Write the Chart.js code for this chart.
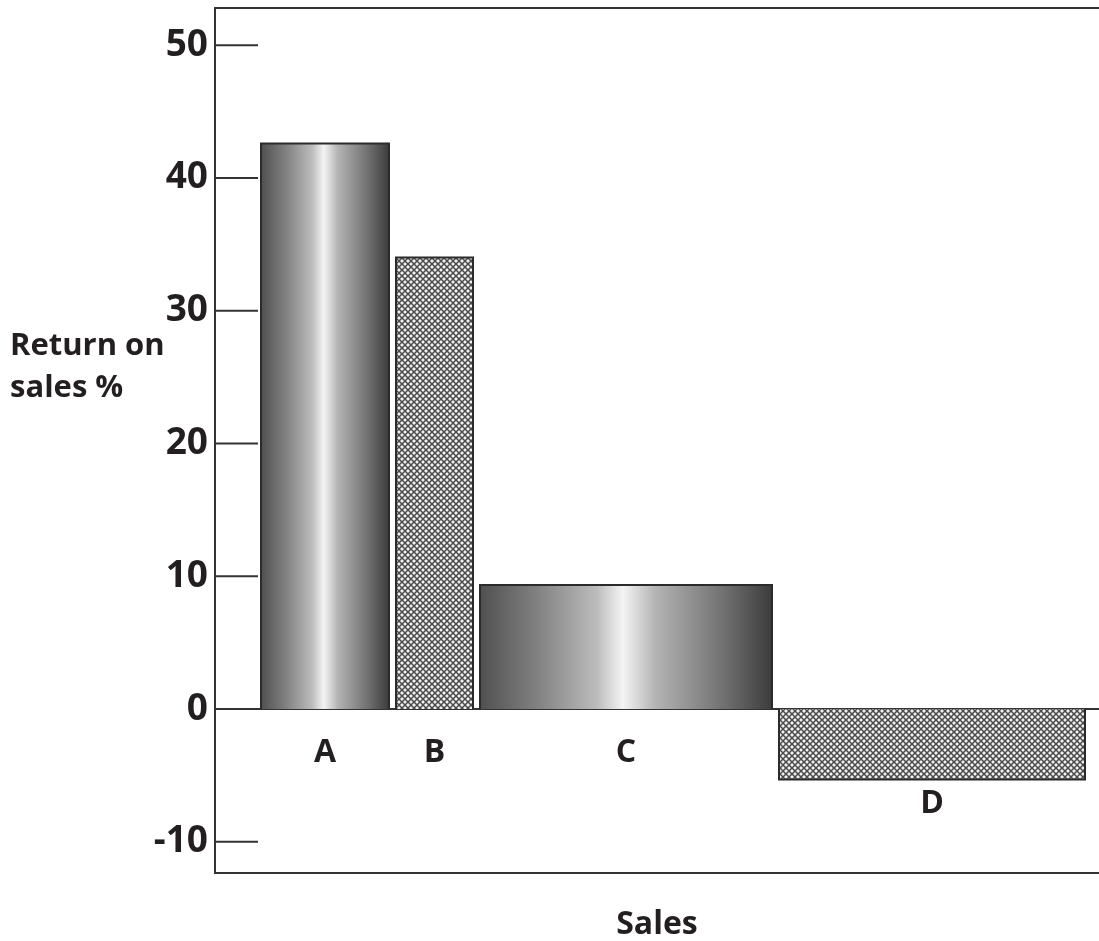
<!DOCTYPE html>
<html>
<head>
<meta charset="utf-8">
<script src="https://cdn.jsdelivr.net/npm/chart.js@4/dist/chart.umd.min.js"></script>
<style>
  html, body { margin: 0; padding: 0; background: #fff; }
  #wrap { width: 1099px; height: 941px; }
</style>
</head>
<body>
<div id="wrap"><canvas id="chart" width="1099" height="941"></canvas></div>
<script>
// data
const categories    = ['A', 'B', 'C', 'D'];
const sales         = [128, 77, 292, 306];
const returnOnSales = [42.6, 34.0, 9.35, -5.3];
const fillKinds     = ['metal', 'hatch', 'metal', 'hatch'];
const yTicks        = [-10, 0, 10, 20, 30, 40, 50];

const BAR_GAP = 7;
const INK = '#231f20';
const FONT = '"Open Sans", "DejaVu Sans", sans-serif';

// cumulative sales give each bar its left / right edge on the x scale
const starts = [];
const ends = [];
sales.reduce((acc, s) => {
  starts.push(acc);
  ends.push(acc + s);
  return acc + s + BAR_GAP;
}, 0);

/* ── fills ── */
function hatchPattern(ctx) {
  const tile = document.createElement('canvas');
  tile.width = tile.height = 6;
  const t = tile.getContext('2d');
  t.fillStyle = '#f0f0f0';
  t.fillRect(0, 0, 6, 6);
  t.strokeStyle = '#4a4a4a';
  t.lineWidth = 1.5;
  t.beginPath();
  t.moveTo(-1, -1); t.lineTo(7, 7);
  t.moveTo(7, -1);  t.lineTo(-1, 7);
  t.stroke();
  return ctx.createPattern(tile, 'repeat');
}

function metalGradient(ctx, x0, x1) {
  const g = ctx.createLinearGradient(x0, 0, x1, 0);
  g.addColorStop(0,    '#505050');
  g.addColorStop(0.2,  '#828282');
  g.addColorStop(0.4,  '#bcbcbc');
  g.addColorStop(0.49, '#f4f4f4');
  g.addColorStop(0.6,  '#b4b4b4');
  g.addColorStop(0.85, '#6c6c6c');
  g.addColorStop(1,    '#3c3c3c');
  return g;
}

let hatch = null;

const datasets = categories.map((cat, i) => ({
  label: cat,
  data: [
    { x: starts[i], y: 0 },
    { x: starts[i], y: returnOnSales[i] },
    { x: ends[i],   y: returnOnSales[i] },
    { x: ends[i],   y: 0 },
  ],
  fill: 'origin',
  borderColor: '#2b2b2b',
  borderWidth: 2,
  pointRadius: 0,
  tension: 0,
  backgroundColor: c => {
    const { ctx, scales, chartArea } = c.chart;
    if (fillKinds[i] === 'hatch') {
      if (!hatch) hatch = hatchPattern(ctx);
      return hatch;
    }
    if (!chartArea || !scales.x) return '#999';
    const x0 = scales.x.getPixelForValue(starts[i]);
    const x1 = scales.x.getPixelForValue(ends[i]);
    if (!Number.isFinite(x0) || !Number.isFinite(x1)) return '#999';
    return metalGradient(ctx, x0, x1);
  },
}));

/* ── frame, short ticks, labels ── */
const decorations = {
  id: 'decorations',
  beforeDatasetsDraw(chart) {
    const { ctx, chartArea: a, scales: { y } } = chart;
    ctx.save();
    ctx.strokeStyle = '#333';
    ctx.lineWidth = 2;
    ctx.beginPath();
    ctx.moveTo(a.left, a.top);
    ctx.lineTo(a.right, a.top);
    yTicks.filter(v => v !== 0).forEach(v => {
      const py = y.getPixelForValue(v);
      ctx.moveTo(a.left, py);
      ctx.lineTo(a.left + 43, py);
    });
    ctx.stroke();
    ctx.restore();
  },
  afterDatasetsDraw(chart) {
    const { ctx, scales: { x, y } } = chart;
    ctx.save();
    ctx.fillStyle = INK;
    ctx.font = 'bold 32px ' + FONT;
    ctx.textAlign = 'center';
    ctx.textBaseline = 'middle';
    categories.forEach((cat, i) => {
      const cx = (x.getPixelForValue(starts[i]) + x.getPixelForValue(ends[i])) / 2;
      const cy = returnOnSales[i] >= 0
        ? y.getPixelForValue(0) + 44
        : y.getPixelForValue(returnOnSales[i]) + 24;
      ctx.fillText(cat, cx, cy);
    });

    ctx.font = 'bold 31px ' + FONT;
    ctx.textAlign = 'left';
    ctx.textBaseline = 'alphabetic';
    ctx.fillText('Return on', 10, 355);
    ctx.fillText('sales %', 10, 397);
    ctx.restore();
  },
};

new Chart(document.getElementById('chart'), {
  type: 'line',
  data: { datasets },
  plugins: [decorations],
  options: {
    responsive: false,
    animation: false,
    layout: { padding: { top: 8, right: 0, bottom: 0, left: 0 } },
    plugins: {
      legend: { display: false },
      tooltip: { enabled: false },
    },
    scales: {
      x: {
        type: 'linear',
        min: -46,
        max: 838,
        ticks: { display: false },
        grid: { display: false, drawTicks: false },
        border: { display: true, color: '#333', width: 2 },
        title: {
          display: true,
          text: 'Sales',
          color: INK,
          font: { family: FONT, size: 32, weight: 'bold', lineHeight: 1 },
          padding: { top: 0, bottom: 0 },
        },
        afterFit: s => { s.height = 68; },
      },
      y: {
        min: -12.35,
        max: 52.8,
        afterBuildTicks: s => { s.ticks = yTicks.map(v => ({ value: v })); },
        ticks: {
          color: INK,
          padding: 7,
          font: { family: FONT, size: 37, weight: 'bold' },
        },
        grid: {
          drawTicks: false,
          lineWidth: 2,
          color: c => (c.tick && c.tick.value === 0 ? '#333' : 'rgba(0,0,0,0)'),
        },
        border: { display: true, color: '#333', width: 2 },
        afterFit: s => {
          s.width = 215;
          s.paddingTop = 0;
          s.paddingBottom = 0;
        },
      },
    },
  },
});
</script>
</body>
</html>
